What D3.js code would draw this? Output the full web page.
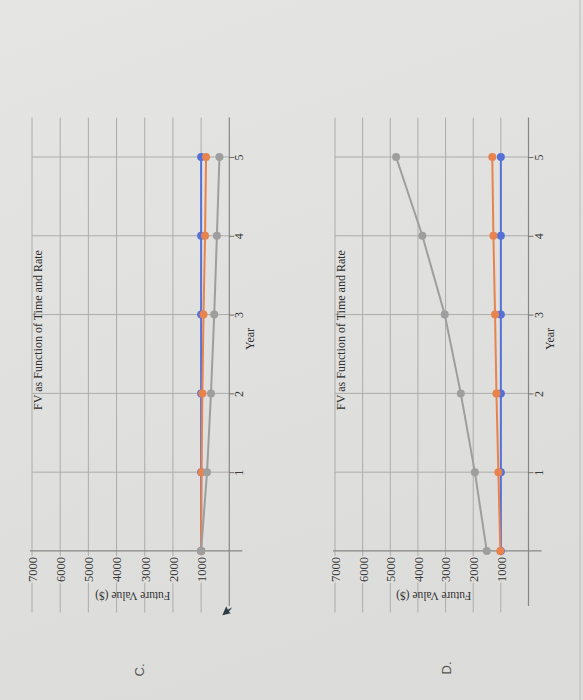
<!DOCTYPE html>
<html><head><meta charset="utf-8">
<script src="https://cdn.jsdelivr.net/npm/d3@7"></script>
<style>html,body{margin:0;padding:0;background:#e1e1df;} svg{display:block;}</style>
</head><body><svg id="c" width="583" height="700"></svg>
<script>
// ---- data ----
const years = [0, 1, 2, 3, 4, 5];
const yearTicks = [1, 2, 3, 4, 5];
const valueTicks = [1000, 2000, 3000, 4000, 5000, 6000, 7000];
const gridValues = [0, 1000, 2000, 3000, 4000, 5000, 6000, 7000];
const seriesColors = ["#5571d8", "#e8834e", "#9e9e9e"];

const chartCBlue   = [1000, 1000, 1000, 1000, 1000, 1000];
const chartCOrange = [1000, 985, 955, 915, 860, 825];
const chartCGray   = [1000, 790, 650, 535, 440, 350];

const chartDBlue   = [1000, 1000, 1000, 1000, 1000, 1000];
const chartDOrange = [1020, 1090, 1160, 1210, 1270, 1310];
const chartDGray   = [1510, 1940, 2450, 3030, 3840, 4790];

const chartTitle = "FV as Function of Time and Rate";
const valueTitle = "Future Value ($)";
const yearTitle = "Year";
const panelLabels = ["C.", "D."];

// ---- drawing ----
const svg = d3.select("#c");
const defs = svg.append("defs");
const grad = defs.append("linearGradient").attr("id", "bg").attr("x1", 0).attr("y1", 0).attr("x2", 0.3).attr("y2", 1);
grad.append("stop").attr("offset", "0%").attr("stop-color", "#e5e5e3");
grad.append("stop").attr("offset", "100%").attr("stop-color", "#dcdcda");
svg.append("rect").attr("width", 583).attr("height", 700).attr("fill", "url(#bg)");
svg.append("line").attr("x1", 580).attr("x2", 580).attr("y1", 0).attr("y2", 700)
  .attr("stroke", "#c8c8c6").attr("stroke-width", 1.5);

const FONT = "'Liberation Serif','Times New Roman',serif";
const BG = "#e0e0de";

// year scale (vertical on the page, the sheet is rotated)
const yS = d3.scaleLinear().domain([-0.8, 5.5]).range([614, 117.6]);

const panels = [
  { left: 32, zero: 229.3, label: panelLabels[0], labelX: 139, labelY: 670,
    series: [chartCBlue, chartCOrange, chartCGray] },
  { left: 335, zero: 528.5, label: panelLabels[1], labelX: 446, labelY: 668,
    series: [chartDBlue, chartDOrange, chartDGray] }
];

panels.forEach(p => {
  const x = d3.scaleLinear().domain([0, 7000]).range([p.zero, p.left]);
  const g = svg.append("g");

  // value gridlines (vertical on page)
  g.selectAll("line.vg").data(valueTicks).join("line").attr("class", "vg")
    .attr("x1", d => x(d)).attr("x2", d => x(d))
    .attr("y1", yS(5.5)).attr("y2", yS(-0.78))
    .attr("stroke", "#acacaa").attr("stroke-width", 1);

  // year gridlines (horizontal on page)
  g.selectAll("line.hg").data(yearTicks).join("line").attr("class", "hg")
    .attr("x1", x(7000)).attr("x2", x(0))
    .attr("y1", d => yS(d)).attr("y2", d => yS(d))
    .attr("stroke", "#acacaa").attr("stroke-width", 1);

  // year axis line at value 0
  g.append("line").attr("x1", x(0)).attr("x2", x(0))
    .attr("y1", yS(5.5)).attr("y2", yS(-0.7))
    .attr("stroke", "#878785").attr("stroke-width", 1.2);

  // value axis line at year 0
  g.append("line").attr("x1", x(7000) - 2).attr("x2", x(0) + 13)
    .attr("y1", yS(0)).attr("y2", yS(0))
    .attr("stroke", "#878785").attr("stroke-width", 1.2);

  // value axis labels
  const vAxis = d3.axisBottom(x).tickValues(valueTicks).tickSize(0).tickSizeOuter(0).tickFormat(d3.format("d"));
  const va = g.append("g").attr("transform", `translate(0,${yS(0)})`).call(vAxis);
  va.select(".domain").remove();
  va.selectAll("text")
    .attr("transform", "rotate(-90)")
    .attr("x", -6).attr("y", 0).attr("dy", "0.35em")
    .attr("text-anchor", "end")
    .attr("font-family", FONT).attr("font-size", 12.5).attr("fill", "#3a3a3a")
    .attr("stroke", BG).attr("stroke-width", 3).attr("paint-order", "stroke");

  // year axis ticks + labels
  const yAxis = d3.axisRight(yS).tickValues(yearTicks).tickSize(5).tickSizeOuter(0).tickFormat(d3.format("d"));
  const ya = g.append("g").attr("transform", `translate(${x(0)},0)`).call(yAxis);
  ya.select(".domain").remove();
  ya.selectAll("line").attr("stroke", "#6e6e6c");
  ya.selectAll("text")
    .attr("transform", "rotate(-90)")
    .attr("x", 0).attr("y", 14).attr("dy", 0)
    .attr("text-anchor", "middle")
    .attr("font-family", FONT).attr("font-size", 12).attr("fill", "#3a3a3a");

  // series
  const line = d3.line().x(d => x(d.v)).y(d => yS(d.t));
  p.series.forEach((vals, i) => {
    const pts = years.map((t, k) => ({ t: t, v: vals[k] }));
    const sg = g.append("g");
    sg.append("path").datum(pts).attr("d", line)
      .attr("fill", "none").attr("stroke", seriesColors[i]).attr("stroke-width", 2);
    sg.selectAll("circle").data(pts).join("circle")
      .attr("cx", d => x(d.v)).attr("cy", d => yS(d.t)).attr("r", 4)
      .attr("fill", seriesColors[i]);
  });

  // chart title
  g.append("text").attr("transform", `translate(${x(7000) + 10},330) rotate(-90)`)
    .attr("text-anchor", "middle")
    .attr("font-family", FONT).attr("font-size", 12).attr("fill", "#2e2e2e")
    .text(chartTitle);

  // value axis title (upside down)
  g.append("text").attr("transform", `translate(${(x(0) + x(7000)) / 2 + 2},592) rotate(180)`)
    .attr("text-anchor", "middle")
    .attr("font-family", FONT).attr("font-size", 11.5).attr("fill", "#333")
    .text(valueTitle);

  // year axis title
  g.append("text").attr("transform", `translate(${x(0) + 25},339) rotate(-90)`)
    .attr("text-anchor", "middle")
    .attr("font-family", FONT).attr("font-size", 12).attr("fill", "#333")
    .text(yearTitle);

  // panel label
  g.append("text").attr("transform", `translate(${p.labelX},${p.labelY}) rotate(-90)`)
    .attr("text-anchor", "middle").attr("dy", "0.35em")
    .attr("font-family", "'Liberation Sans',Arial,sans-serif").attr("font-size", 13).attr("fill", "#555")
    .text(p.label);
});

// pencil arrow mark next to panel C's axis end
(function () {
  const x0 = 229.3, y0 = yS(-0.74);
  svg.append("path")
    .attr("d", `M${x0 - 7},${y0 + 6} L${x0 - 3},${y0 - 3} L${x0 - 1.5},${y0 + 0.5} L${x0 + 3},${y0 - 2} L${x0 - 0.5},${y0 + 2.5} L${x0 + 1.5},${y0 + 4} Z`)
    .attr("fill", "#2e3a44");
})();
</script>
</body></html>
